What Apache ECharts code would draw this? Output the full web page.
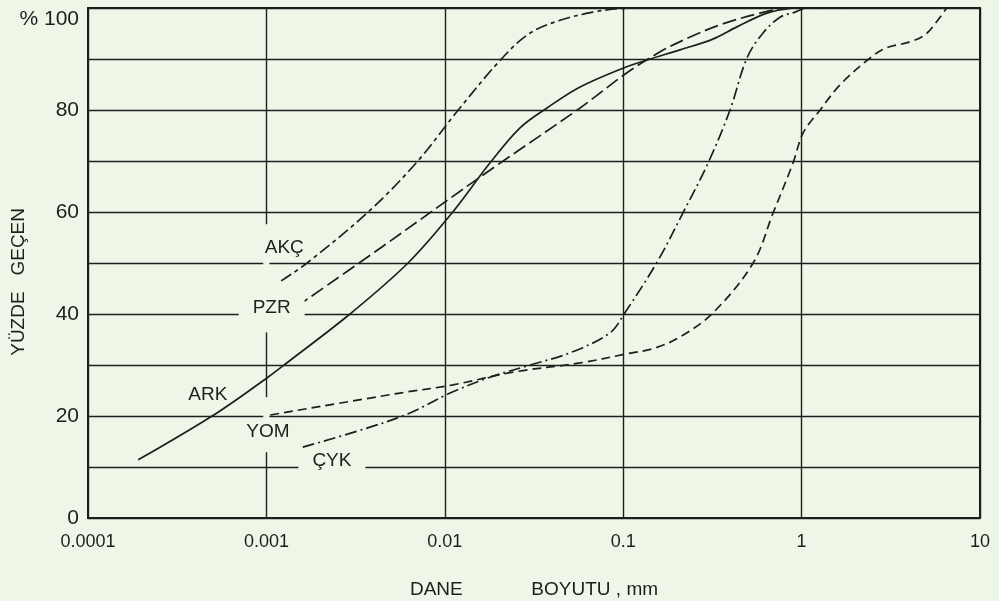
<!DOCTYPE html>
<html>
<head>
<meta charset="utf-8">
<script src="https://cdn.jsdelivr.net/npm/echarts@6/dist/echarts.min.js"></script>
<style>
  html, body { margin: 0; padding: 0; background: #eef6e7; }
  #chart { width: 999px; height: 601px; }
</style>
</head>
<body>
<div id="chart"></div>
<script>
// Grain-size distribution curves (percent passing vs. grain size, mm)
const xTickValues = [0.0001, 0.001, 0.01, 0.1, 1, 10];
const xTickLabels = ['0.0001', '0.001', '0.01', '0.1', '1', '10'];
const yTickLabels = { 0: '0', 20: '20', 40: '40', 60: '60', 80: '80', 100: '% 100' };

// [grain size mm, percent passing]
const akc = [[0.00121, 46.5], [0.00169, 50], [0.00372, 60], [0.00698, 69.8], [0.0119, 80],
  [0.0210, 90.2], [0.0301, 95.1], [0.0443, 97.6], [0.0678, 99.2], [0.090, 99.8], [0.12, 100]];
const pzr = [[0.00147, 41.4], [0.00434, 52.9], [0.0179, 68.2], [0.0573, 80.4], [0.105, 87.3],
  [0.161, 91.4], [0.237, 94.3], [0.349, 96.7], [0.585, 99.0], [0.861, 100], [2.2, 100]];
const ark = [[0.000191, 11.4], [0.000528, 20.6], [0.00102, 27.6], [0.00130, 30.4], [0.00294, 40],
  [0.00622, 50], [0.01097, 59.8], [0.0179, 69.6], [0.0264, 76.5], [0.0374, 80.4], [0.0573, 84.5],
  [0.0998, 88.2], [0.136, 89.8], [0.208, 91.8], [0.318, 93.9], [0.434, 96.3], [0.640, 99.0], [0.895, 100]];
const yom = [[0.00105, 20.2], [0.00561, 24.5], [0.0111, 26.1], [0.0241, 28.6], [0.0573, 30.4],
  [0.105, 32.2], [0.150, 33.3], [0.208, 35.5], [0.318, 40.2], [0.535, 50], [0.692, 59.8],
  [0.895, 69.6], [1.02, 75.5], [1.27, 80], [1.64, 84.9], [2.42, 90.2], [3.0, 92.2], [4.0, 93.3],
  [4.9, 94.7], [5.8, 97.6], [6.5, 100]];
const cyk = [[0.0016, 13.9], [0.00357, 17.5], [0.00638, 20.6], [0.0107, 24.5], [0.0179, 27.6],
  [0.0301, 30], [0.0504, 32.4], [0.0843, 36.3], [0.102, 40.2], [0.155, 50.2], [0.216, 59.8],
  [0.299, 69.6], [0.397, 80], [0.494, 90.2], [0.608, 95.1], [0.757, 98.2], [0.918, 99.2], [1.04, 100]];

// curve name labels: [text, grain size, percent]
const curveLabels = [['AKÇ', 0.00126, 52.9], ['PZR', 0.00107, 41.2], ['ARK', 0.00047, 24.1],
  ['YOM', 0.00102, 16.9], ['ÇYK', 0.00233, 11.2]];

const BG = '#eef6e7';
const INK = '#1e1e1e';
const FONT = 'Liberation Sans, Arial, sans-serif';
const chart = echarts.init(document.getElementById('chart'));

function curve(name, data, type) {
  return {
    name, type: 'line', data, smooth: 0.35, symbol: 'none', z: 3,
    lineStyle: { color: INK, width: 1.7, type: type }
  };
}

const labelPoints = curveLabels.map(([t, x, y]) => ({
  coord: [x, y], value: t,
  label: {
    show: true, formatter: t, position: 'inside',
    fontFamily: FONT, fontSize: 19, color: INK,
    backgroundColor: t === 'ARK' ? 'transparent' : BG,
    padding: t === 'PZR' || t === 'ÇYK' ? [3, 14] : [3, 4]
  }
}));

chart.setOption({
  backgroundColor: BG,
  animation: false,
  grid: {
    left: 88, right: 19, top: 8, bottom: 83, containLabel: false, outerBoundsMode: 'none',
    show: true, borderColor: INK, borderWidth: 2, backgroundColor: 'transparent'
  },
  xAxis: {
    type: 'log', logBase: 10, min: 0.0001, max: 10,
    axisLine: { show: false }, axisTick: { show: false },
    splitLine: { show: true, lineStyle: { color: INK, width: 1.4 } },
    axisLabel: {
      margin: 15, color: INK, fontSize: 18, fontFamily: FONT,
      formatter: v => {
        const i = xTickValues.findIndex(t => Math.abs(Math.log10(t) - Math.log10(v)) < 1e-6);
        return i >= 0 ? xTickLabels[i] : '';
      }
    },
    name: 'DANE             BOYUTU , mm', nameLocation: 'middle', nameGap: 62,
    nameTextStyle: { color: INK, fontSize: 19, fontFamily: FONT }
  },
  yAxis: {
    type: 'value', min: 0, max: 100, interval: 10,
    axisLine: { show: false }, axisTick: { show: false },
    splitLine: { show: true, lineStyle: { color: INK, width: 1.4 } },
    axisLabel: {
      margin: 9, color: INK, fontSize: 21, fontFamily: FONT,
      formatter: v => (v === 100 ? '{top|' + yTickLabels[v] + '}' : (yTickLabels[v] !== undefined ? yTickLabels[v] : '')),
      rich: { top: { fontSize: 21, fontFamily: FONT, color: INK, padding: [22, 0, 0, 0] } }
    }
  },
  graphic: [{
    type: 'text', left: 9, top: 208, rotation: Math.PI / 2,
    style: { text: 'YÜZDE   GEÇEN', fill: INK, font: '19px Liberation Sans, Arial, sans-serif' }
  }],
  series: [
    {
      // breaks in the 0.001 grid line around the curve labels
      type: 'line', data: [], z: 2, silent: true,
      markArea: {
        silent: true, itemStyle: { color: BG },
        data: [
          [{ coord: [0.00096, 57.6] }, { coord: [0.00104, 36.4] }],
          [{ coord: [0.00096, 23.7] }, { coord: [0.00104, 12.9] }]
        ]
      }
    },
    curve('AKÇ', akc, [12, 4, 4, 4]),
    curve('PZR', pzr, [14, 5]),
    curve('ARK', ark, 'solid'),
    curve('YOM', yom, [9, 5]),
    curve('ÇYK', cyk, [12, 4, 2, 4]),
    {
      type: 'scatter', data: [], z: 4, silent: true,
      markPoint: { symbol: 'rect', symbolSize: 0, data: labelPoints, silent: true }
    }
  ]
});
</script>
</body>
</html>
